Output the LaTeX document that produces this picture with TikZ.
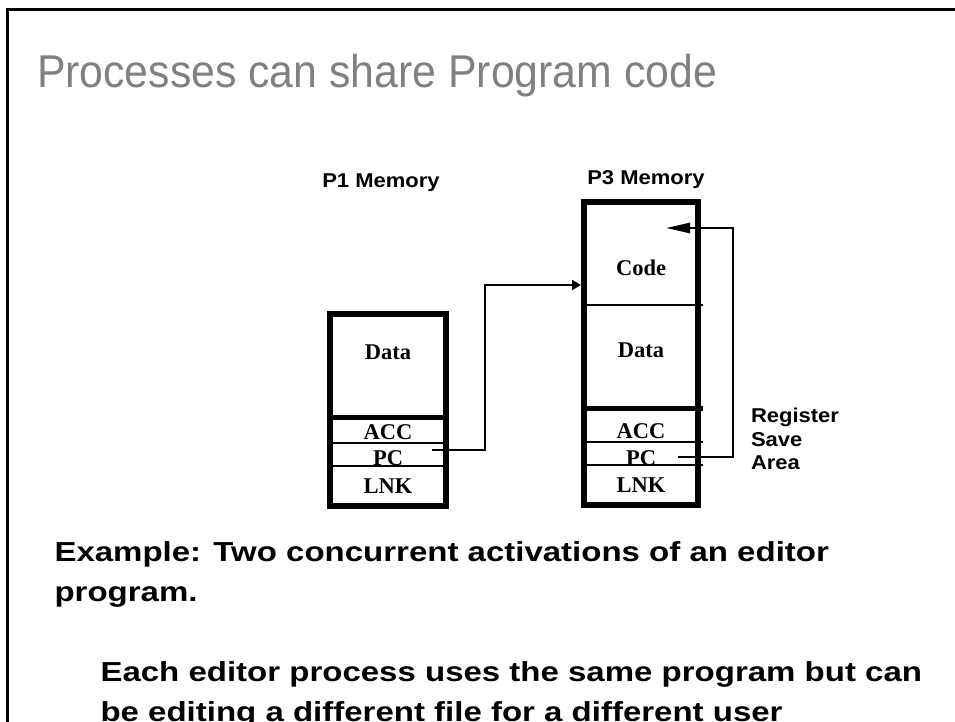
\documentclass[tikz,border=0pt]{standalone}
\usepackage{fontspec}
\setmainfont{Liberation Serif}
\newfontfamily\titlefont[FakeStretch=0.93]{Liberation Sans}
\newfontfamily\bodyfont[FakeStretch=1.2]{Liberation Sans}
\newfontfamily\labelfont[FakeStretch=1.1]{Liberation Sans}
\usetikzlibrary{arrows.meta}
\definecolor{titlegray}{RGB}{128,128,128}
\begin{document}
\begin{tikzpicture}[x=1pt,y=-1pt,
  every node/.style={inner sep=0pt, outer sep=0pt},
  membox/.style={draw, line width=5.5pt},
  sepline/.style={line width=5pt},
  regline/.style={line width=1.3pt},
  cell/.style={font=\bfseries\fontsize{22.5}{22.5}\selectfont, anchor=base},
  memlabel/.style={font=\labelfont\bfseries\fontsize{20}{23.5}\selectfont},
  bodytext/.style={font=\bodyfont\bfseries\fontsize{27.5}{40}\selectfont, align=left, anchor=north west},
  conn/.style={line width=2.5pt, line join=miter},
]
\useasboundingbox (0,0) rectangle (955,722);
\draw[line width=3pt, line join=miter] (7,730) -- (7,10) -- (960,10);

\node[font=\titlefont\fontsize{46}{46}\selectfont, text=titlegray, anchor=base west] (title) at (37,88) {Processes can share Program code};

% P1 memory
\node[memlabel, anchor=base] (p1lab) at (381,187) {P1 Memory};
\node[membox, minimum width=116pt, minimum height=192pt] (p1) at (388,410) {};
\draw[sepline] (p1.west |- 0,417.5) -- (p1.east |- 0,417.5);
\draw[regline] (333,443) -- (443,443);
\draw[regline] (333,466) -- (443,466);
\node[cell] (p1data) at (388,359) {Data};
\node[cell] (p1acc) at (388,439) {ACC};
\node[cell] (p1pc) at (388,465) {PC};
\node[cell] (p1lnk) at (388,493) {LNK};

% P3 memory
\node[memlabel, anchor=base] (p3lab) at (646,185) {P3 Memory};
\node[membox, minimum width=114pt, minimum height=303pt] (p3) at (641,353.5) {};
\draw[regline] (587,305) -- (703,305);
\draw[sepline] (p3.west |- 0,408) -- (703,408);
\draw[regline] (587,442) -- (703,442);
\draw[regline] (587,465) -- (703,465);
\node[cell] (p3code) at (641,275) {Code};
\node[cell] (p3data) at (641,357) {Data};
\node[cell] (p3acc) at (641,438) {ACC};
\node[cell] (p3pc) at (641,465) {PC};
\node[cell] (p3lnk) at (641,492) {LNK};

\node[memlabel, align=left, anchor=north west] (rsa) at (751,408.5) {Register\\Save\\Area};

% connectors
\coordinate (p1pcend) at (432,450);
\coordinate (p3entry) at (581,285);
\draw[conn, -{Triangle[length=9pt,width=10pt]}] (p1pcend) -- (485,450) |- (p3entry);
\coordinate (p3pcend) at (678,457);
\coordinate (p3codein) at (666,228);
\draw[conn, -{Triangle[length=24pt,width=10pt]}] (p3pcend) -- (733,457) |- (p3codein);

% body text
\node[bodytext] (example) at (54.5,542) {Example: Two concurrent activations of an editor\\program.};
\node[bodytext] (each) at (100.5,662) {Each editor process uses the same program but can\\be editing a different file for a different user};
\end{tikzpicture}
\end{document}
